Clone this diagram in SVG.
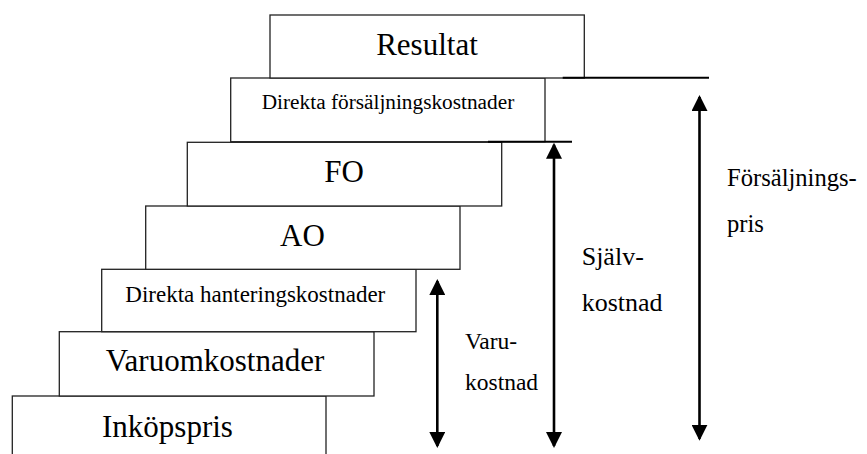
<svg xmlns="http://www.w3.org/2000/svg" width="867" height="454" viewBox="0 0 867 454">
<style>
.box rect{fill:#fff;stroke:#222;stroke-width:1.3}
.t{font-family:"Liberation Serif","Times New Roman",serif;fill:#000}
.big{font-size:31px;text-anchor:middle}
.sm{text-anchor:middle}
.arr{stroke:#000;stroke-width:2.6;fill:none;marker-start:url(#ah);marker-end:url(#ah)}
.lvl{stroke:#000;stroke-width:2}
</style>
<defs>
<marker id="ah" viewBox="0 0 16 16" refX="14" refY="8" markerWidth="16" markerHeight="16" markerUnits="userSpaceOnUse" orient="auto-start-reverse">
<path d="M0,0 L16,8 L0,16 z" fill="#000"/>
</marker>
</defs>
<g id="inkopspris" class="box"><rect x="12.3" y="396" width="313.7" height="70"/><text class="t big" x="167.5" y="436.7">Inköpspris</text></g>
<g id="varuomkostnader" class="box"><rect x="59.3" y="331.7" width="314.7" height="64.3"/><text class="t big" x="215" y="370.7">Varuomkostnader</text></g>
<g id="direkta-hantering" class="box"><rect x="101.7" y="269.3" width="314.3" height="62.4"/><text class="t sm" x="255.3" y="302.3" font-size="23">Direkta hanteringskostnader</text></g>
<g id="ao" class="box"><rect x="145.7" y="206" width="314.3" height="63.3"/><text class="t big" x="302.5" y="246">AO</text></g>
<g id="fo" class="box"><rect x="187.3" y="142.3" width="314.4" height="63.7"/><text class="t big" x="344" y="182.3">FO</text></g>
<g id="direkta-forsaljning" class="box"><rect x="230.7" y="78" width="314.3" height="63.7"/><text class="t sm" x="388" y="109" font-size="21.3">Direkta försäljningskostnader</text></g>
<g id="resultat" class="box"><rect x="270" y="15" width="314.3" height="63"/><text class="t big" x="427" y="55">Resultat</text></g>
<g id="connectors">
<line class="lvl" x1="562.7" y1="77.7" x2="709" y2="77.7"/>
<line class="lvl" x1="488" y1="141.7" x2="572" y2="141.7"/>
<line class="arr" x1="437.3" y1="281" x2="437.3" y2="446"/>
<line class="arr" x1="554" y1="144.7" x2="554" y2="446"/>
<line class="arr" x1="699.5" y1="97" x2="699.5" y2="438.7"/>
</g>
<g id="labels" font-family="Liberation Serif, Times New Roman, serif">
<text class="t" x="465" y="349" font-size="23.5">Varu-</text>
<text class="t" x="465" y="390" font-size="23.5">kostnad</text>
<text class="t" x="581.7" y="265" font-size="26">Själv-</text>
<text class="t" x="581.7" y="310.7" font-size="26">kostnad</text>
<text class="t" x="727" y="186" font-size="24.6">Försäljnings-</text>
<text class="t" x="727" y="231.7" font-size="24.6">pris</text>
</g>
</svg>
